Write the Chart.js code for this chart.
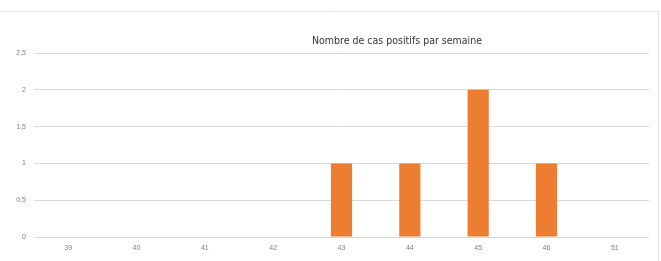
<!DOCTYPE html>
<html>
<head>
<meta charset="utf-8">
<script src="https://cdn.jsdelivr.net/npm/chart.js@4/dist/chart.umd.min.js"></script>
<style>
  html, body { margin: 0; padding: 0; background: #fff; }
  #wrap { width: 661px; height: 261px; position: relative; }
</style>
</head>
<body>
<div id="wrap"><canvas id="cases"></canvas></div>
<script>
const weeks = ['39', '40', '41', '42', '43', '44', '45', '46', '51'];
const positiveCases = [0, 0, 0, 0, 1, 1, 2, 1, 0];
const yTicks = [0, 0.5, 1, 1.5, 2, 2.5];
const chartTitle = 'Nombre de cas positifs par semaine';

// title sits off-centre in the original, so draw it by hand
const titleAndFrame = {
  id: 'titleAndFrame',
  beforeDraw(chart) {
    const ctx = chart.ctx;
    ctx.save();
    ctx.strokeStyle = '#e4e4e4';
    ctx.lineWidth = 1;
    ctx.beginPath();
    ctx.moveTo(0, 11.5);
    ctx.lineTo(658.5, 11.5);
    ctx.lineTo(658.5, 261);
    ctx.stroke();
    ctx.restore();
  },
  afterDraw(chart) {
    const ctx = chart.ctx;
    ctx.save();
    ctx.fillStyle = '#333333';
    ctx.font = '10.5px "Liberation Sans Narrow", "DejaVu Sans Condensed", sans-serif';
    ctx.textAlign = 'center';
    ctx.textBaseline = 'middle';
    ctx.fillText(chartTitle, 397, 41);
    ctx.restore();
  }
};

new Chart(document.getElementById('cases'), {
  type: 'bar',
  data: {
    labels: weeks,
    datasets: [
      {
        label: chartTitle,
        data: positiveCases,
        backgroundColor: '#ED7D31',
        categoryPercentage: 1,
        barPercentage: 0.31,
      }
    ]
  },
  options: {
    responsive: true,
    maintainAspectRatio: false,
    animation: false,
    layout: { padding: { top: 53, right: 12, left: 0, bottom: 0 } },
    plugins: {
      legend: { display: false },
      title: { display: false },
      tooltip: { enabled: false }
    },
    scales: {
      x: {
        grid: { display: false, drawTicks: false },
        border: { display: false },
        ticks: { color: '#808080', font: { size: 7 }, padding: 7, maxRotation: 0 },
        afterFit: s => { s.height = 24; }
      },
      y: {
        min: 0,
        max: 2.5,
        afterBuildTicks: s => { s.ticks = yTicks.map(v => ({ value: v })); },
        grid: { color: '#d9d9d9', drawTicks: false },
        border: { display: false },
        ticks: {
          color: '#808080',
          font: { size: 7 },
          padding: 8,
          callback: v => String(v).replace('.', ',')
        },
        afterFit: s => { s.width = 34; }
      }
    }
  },
  plugins: [titleAndFrame]
});
</script>
</body>
</html>
